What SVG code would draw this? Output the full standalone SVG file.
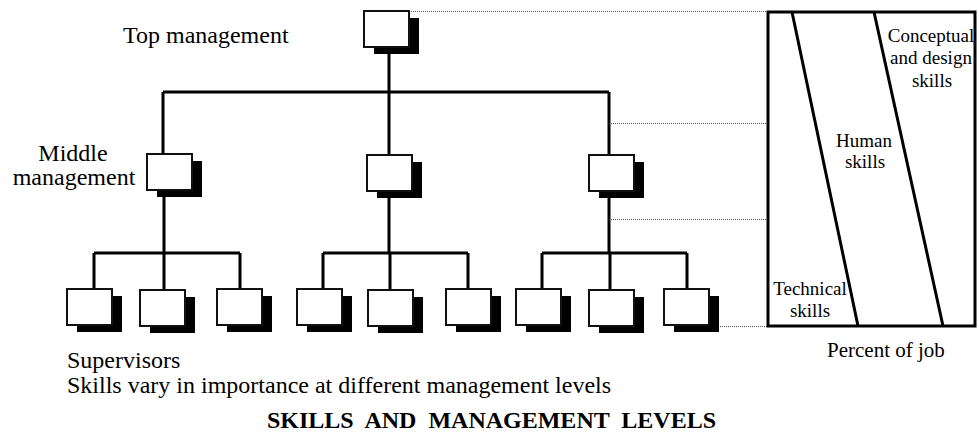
<svg xmlns="http://www.w3.org/2000/svg" width="979" height="437" viewBox="0 0 979 437">
<style>
.box{fill:#fff;stroke:#111;stroke-width:2}
.sh{fill:#000}
.ln{stroke:#000;stroke-width:3;fill:none}
.dot{stroke:#555;stroke-width:1;stroke-dasharray:1 1;fill:none}
.lbl{font-family:"Liberation Serif","Times New Roman",serif;font-size:24px;fill:#000}
.sm{font-family:"Liberation Serif","Times New Roman",serif;font-size:19px;fill:#000;text-anchor:middle}
.title{font-family:"Liberation Serif","Times New Roman",serif;font-size:24px;font-weight:bold;fill:#000}
</style>
<defs>
<g id="node"><rect class="sh" x="10" y="7" width="45" height="36"/><rect class="box" x="0" y="0" width="45" height="36"/></g>
</defs>
<g id="connectors">
<path class="ln" d="M389 47V92M163 92H609M163 92V154M389 92V154M609 92V154"/>
<path class="ln" d="M164 190V253M94 253H240M94 253V289M164 253V289M240 253V289"/>
<path class="ln" d="M389 190V253M323 253H468M323 253V289M390 253V289M468 253V289"/>
<path class="ln" d="M609 190V253M542 253H687M542 253V289M610 253V289M687 253V289"/>
<path class="dot" d="M409 11.5H768M609 123.5H770M609 219.5H768M720 326.5H768"/>
</g>
<g id="top"><use href="#node" x="364" y="11"/></g>
<g id="mid1"><use href="#node" x="147" y="154"/></g>
<g id="mid2"><use href="#node" x="367" y="155"/></g>
<g id="mid3"><use href="#node" x="589" y="155"/></g>
<g id="sup1"><use href="#node" x="67" y="289"/></g>
<g id="sup2"><use href="#node" x="140" y="290"/></g>
<g id="sup3"><use href="#node" x="217" y="289"/></g>
<g id="sup4"><use href="#node" x="297" y="289"/></g>
<g id="sup5"><use href="#node" x="368" y="290"/></g>
<g id="sup6"><use href="#node" x="446" y="289"/></g>
<g id="sup7"><use href="#node" x="516" y="289"/></g>
<g id="sup8"><use href="#node" x="589" y="290"/></g>
<g id="sup9"><use href="#node" x="664" y="289"/></g>
<g id="chart">
<rect x="768" y="12" width="207" height="314" fill="#fff" stroke="#000" stroke-width="3"/>
<path class="ln" d="M792 12L858 326M874 12L943 326"/>
<text class="sm" x="931" y="42">Conceptual</text>
<text class="sm" x="931" y="64">and design</text>
<text class="sm" x="932" y="87">skills</text>
<text class="sm" x="864" y="147">Human</text>
<text class="sm" x="865" y="168">skills</text>
<text class="sm" x="810" y="295">Technical</text>
<text class="sm" x="810" y="317">skills</text>
</g>
<g id="labels">
<text class="lbl" x="123" y="43">Top management</text>
<text class="lbl" x="73" y="161" text-anchor="middle">Middle</text>
<text class="lbl" x="74" y="185" text-anchor="middle">management</text>
<text class="lbl" x="67" y="368">Supervisors</text>
<text class="lbl" x="67" y="393">Skills vary in importance at different management levels</text>
<text class="lbl" x="827" y="357" style="font-size:21px">Percent of job</text>
<text class="title" x="267" y="428" xml:space="preserve">SKILLS  AND  MANAGEMENT  LEVELS</text>
</g>
</svg>
